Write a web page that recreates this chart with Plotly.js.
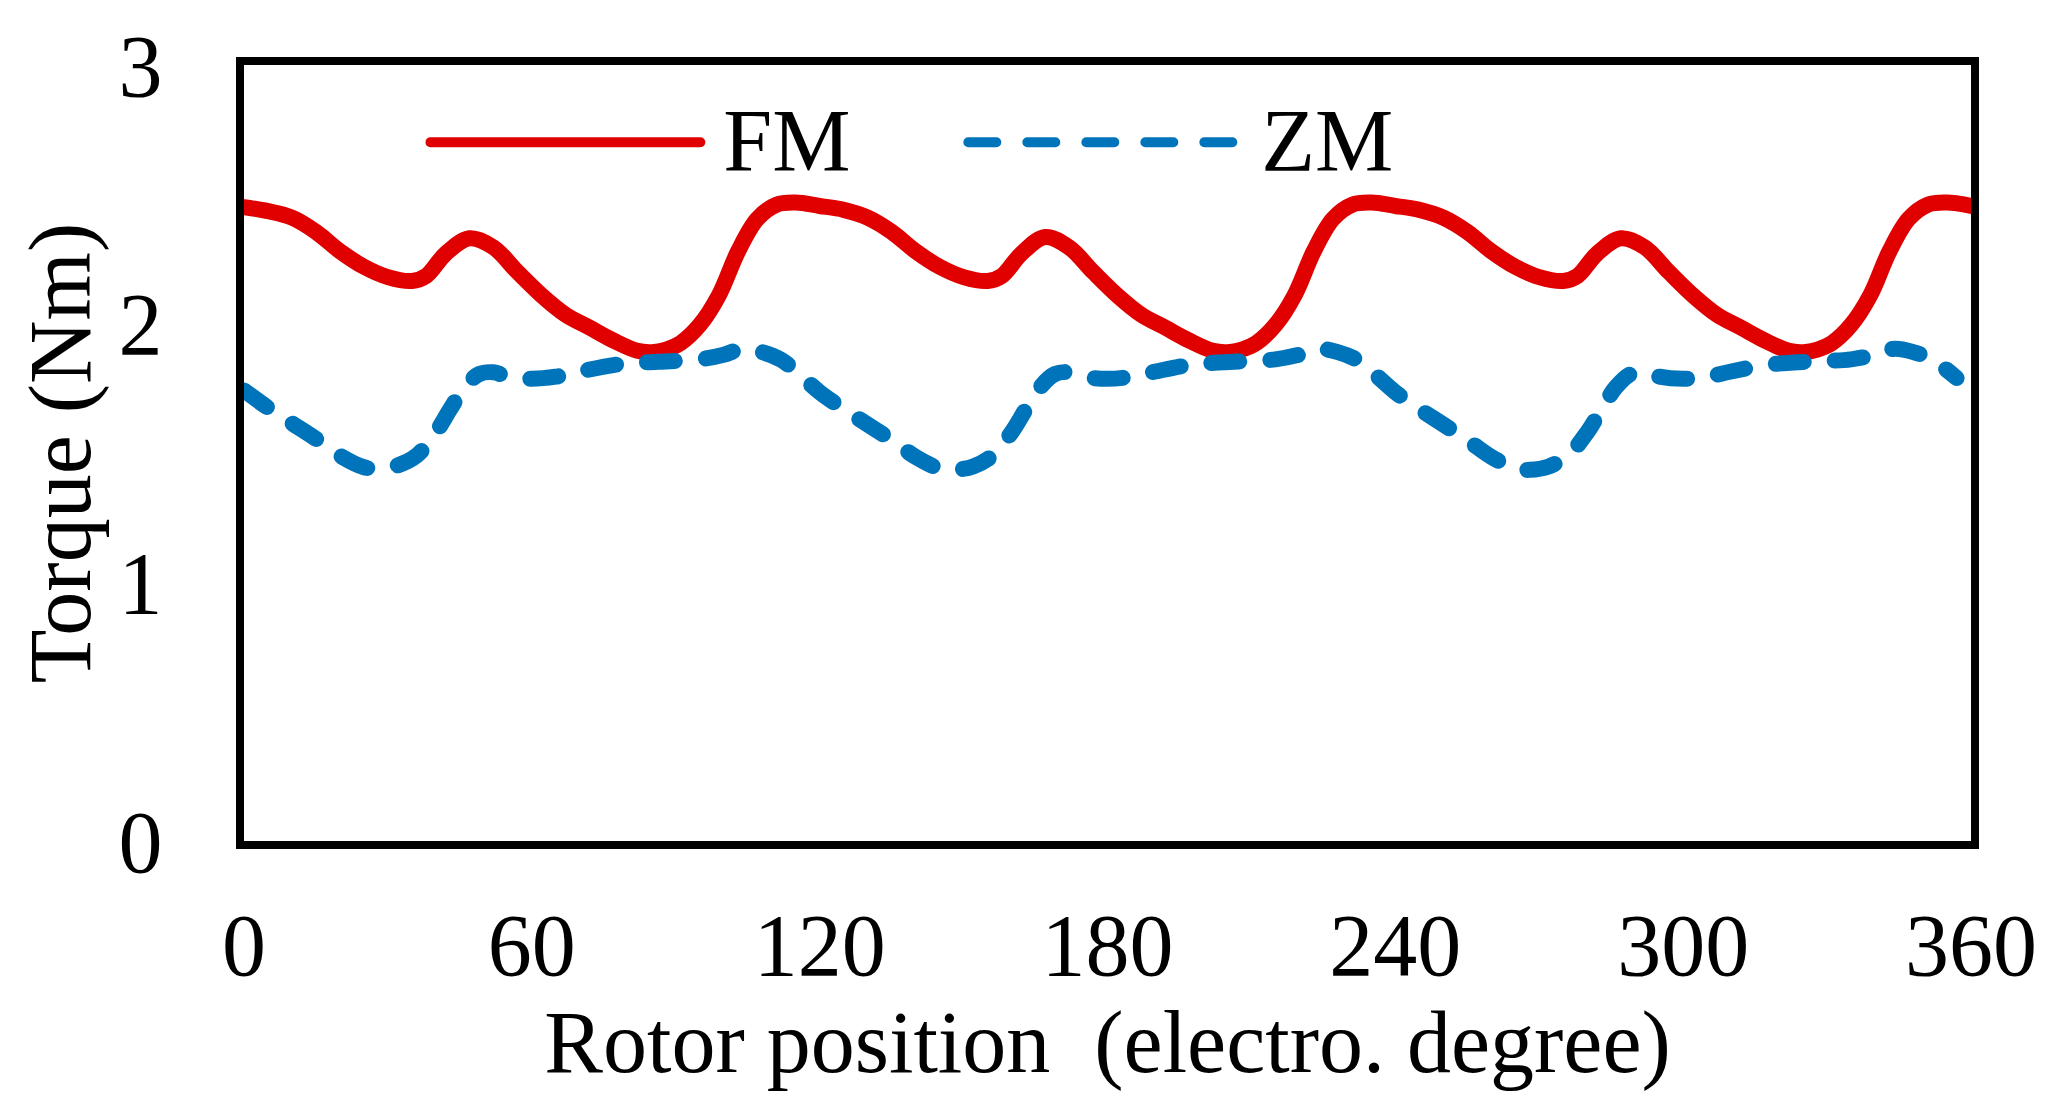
<!DOCTYPE html>
<html>
<head>
<meta charset="utf-8">
<script src="https://cdn.plot.ly/plotly-3.0.1.min.js"></script>
<style>
  body { margin: 0; background: #fff; }
  .js-line { stroke-linecap: round; }
  .legend .legendtext { transform: translate(18px, -7px); }
</style>
</head>
<body>
<div id="chart" style="width:2062px;height:1106px;"></div>
<script>
// rotor position (electrical degrees) and torque (Nm)
const fmAngle = [
  0, 5, 10, 15, 20, 25, 30, 35, 38, 42, 47, 52, 57, 62, 67, 72, 77, 82, 85, 88, 91, 95, 99, 103, 107, 111, 115,
  120, 125, 130, 135, 140, 145, 150, 155, 158, 162, 167, 172, 177, 182, 187, 192, 197, 202, 205, 208, 211, 215, 219, 223, 227, 231, 235,
  240, 245, 250, 255, 260, 265, 270, 275, 278, 282, 287, 292, 297, 302, 307, 312, 317, 322, 325, 328, 331, 335, 339, 343, 347, 351, 355,
  360
];
const fmTorque = [
  2.45, 2.435, 2.41, 2.355, 2.28, 2.22, 2.18, 2.165, 2.185, 2.27, 2.33, 2.295, 2.2, 2.11, 2.035, 1.985, 1.935, 1.895, 1.89, 1.9, 1.925, 1.995, 2.11, 2.28, 2.405, 2.46, 2.468,
  2.455, 2.44, 2.41, 2.355, 2.28, 2.22, 2.18, 2.165, 2.185, 2.27, 2.335, 2.295, 2.2, 2.11, 2.035, 1.985, 1.935, 1.895, 1.89, 1.9, 1.925, 1.995, 2.11, 2.28, 2.405, 2.46, 2.468,
  2.455, 2.44, 2.41, 2.355, 2.28, 2.22, 2.18, 2.165, 2.185, 2.27, 2.33, 2.295, 2.2, 2.11, 2.035, 1.985, 1.935, 1.895, 1.89, 1.9, 1.925, 1.995, 2.11, 2.28, 2.405, 2.46, 2.468,
  2.455
];
const zmAngle = [
  0, 5, 10, 15, 20, 25, 28, 32, 36, 40, 43, 46, 49, 52, 55, 60, 65, 70, 77, 83, 89, 95, 100, 104, 108, 112, 116,
  120, 125, 130, 135, 140, 145, 148, 152, 156, 160, 163, 166, 169, 172, 175, 180, 185, 190, 197, 203, 209, 215, 220, 224, 228, 232, 236,
  240, 245, 250, 255, 260, 265, 268, 272, 276, 280, 283, 286, 289, 292, 295, 300, 305, 310, 317, 323, 329, 335, 340, 344, 348, 352, 357
];
const zmTorque = [
  1.742, 1.675, 1.615, 1.555, 1.49, 1.445, 1.44, 1.452, 1.49, 1.58, 1.67, 1.755, 1.805, 1.812, 1.795, 1.787, 1.795, 1.815, 1.84, 1.85, 1.855, 1.862, 1.88, 1.903, 1.89, 1.86, 1.8,
  1.735, 1.67, 1.61, 1.55, 1.485, 1.44, 1.435, 1.448, 1.49, 1.58, 1.67, 1.755, 1.805, 1.812, 1.795, 1.787, 1.795, 1.815, 1.84, 1.85, 1.855, 1.862, 1.88, 1.903, 1.89, 1.86, 1.8,
  1.735, 1.67, 1.61, 1.55, 1.485, 1.44, 1.435, 1.448, 1.49, 1.58, 1.67, 1.755, 1.805, 1.812, 1.795, 1.787, 1.795, 1.815, 1.84, 1.85, 1.855, 1.862, 1.88, 1.903, 1.89, 1.86, 1.79
];
const xTicks = [0, 60, 120, 180, 240, 300, 360];
const yTicks = [0, 1, 2, 3];

const serif = { family: "Liberation Serif, Times New Roman, serif", size: 88, color: "#000" };

const fm = {
  x: fmAngle,
  y: fmTorque,
  name: "FM",
  type: "scatter",
  mode: "lines",
  line: { color: "#e00000", width: 16, shape: "spline", smoothing: 1 },
};

const zm = {
  x: zmAngle,
  y: zmTorque,
  name: "ZM",
  type: "scatter",
  mode: "lines",
  line: { color: "#0074bb", width: 16, dash: "28px,31px", shape: "spline", smoothing: 1 },
};

const layout = {
  width: 2062,
  height: 1106,
  margin: { l: 244, r: 91, t: 65, b: 265, pad: 0 },
  paper_bgcolor: "#fff",
  plot_bgcolor: "#fff",
  font: serif,
  showlegend: true,
  legend: {
    orientation: "h",
    x: 0.105,
    xanchor: "left",
    y: 0.9,
    yanchor: "middle",
    itemwidth: 270,
    entrywidth: 253,
    entrywidthmode: "pixels",
    font: serif,
    bgcolor: "rgba(0,0,0,0)",
    itemclick: false,
    itemdoubleclick: false,
  },
  xaxis: {
    range: [0, 360],
    tickvals: xTicks,
    ticks: "",
    ticklabelstandoff: 20,
    tickfont: serif,
    showline: true,
    linewidth: 8,
    linecolor: "#000",
    mirror: true,
    showgrid: false,
    zeroline: false,
    title: { text: "Rotor position\u00a0 (electro. degree)", font: serif, standoff: 9 },
  },
  yaxis: {
    range: [0, 3],
    tickvals: yTicks,
    ticks: "",
    ticklabelstandoff: 56,
    tickfont: serif,
    showline: true,
    linewidth: 8,
    linecolor: "#000",
    mirror: true,
    showgrid: false,
    zeroline: false,
    title: { text: "Torque (Nm)", font: serif, standoff: 2 },
  },
};

Plotly.newPlot("chart", [fm, zm], layout, { staticPlot: true });
</script>
</body>
</html>
